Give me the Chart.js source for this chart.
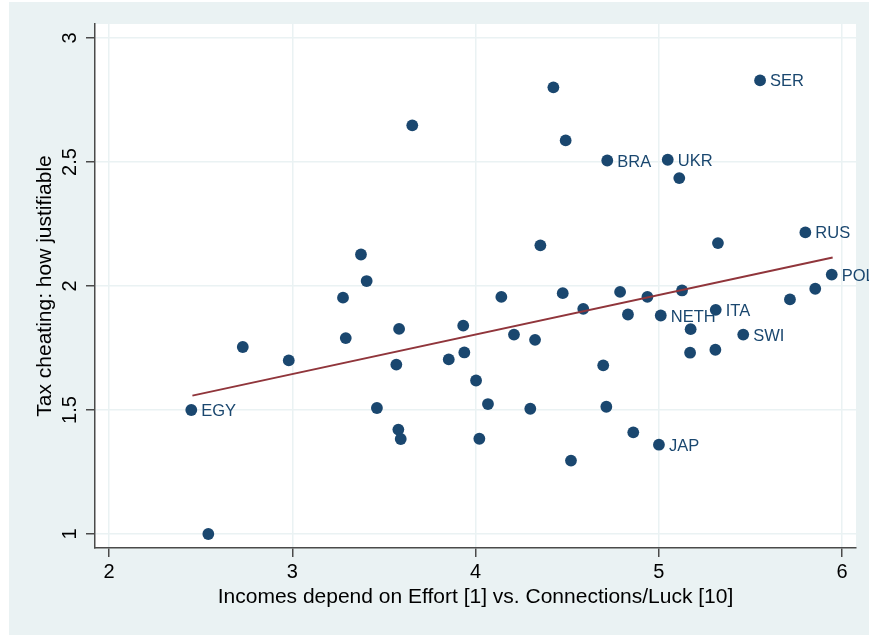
<!DOCTYPE html>
<html>
<head>
<meta charset="utf-8">
<script src="https://cdn.jsdelivr.net/npm/chart.js@4.4.1/dist/chart.umd.min.js"></script>
<style>
  html, body { margin: 0; padding: 0; background: #ffffff; }
  #wrap { width: 869px; height: 635px; }
</style>
</head>
<body>
<div id="wrap"><canvas id="chart" width="869" height="635"></canvas></div>
<script>
// Country averages: perceived role of connections/luck vs. justifiability of tax cheating
const incomeLuck = [
  2.449, 2.542, 2.730, 2.981, 3.277, 3.292, 3.375, 3.406, 3.568, 3.583,
  3.462, 3.579, 3.592, 3.655, 3.854, 3.933, 3.939, 4.003, 4.021, 4.068,
  4.141, 4.210, 4.299, 4.325, 4.354, 4.425, 4.476, 4.492, 4.521, 4.588,
  4.697, 4.719, 4.714, 4.789, 4.832, 4.861, 4.938, 5.001, 5.011, 5.049,
  5.112, 5.127, 5.174, 5.171, 5.311, 5.309, 5.323, 5.461, 5.553, 5.716,
  5.800, 5.854, 5.944
];
const taxCheating = [
  1.500, 1.000, 1.754, 1.700, 1.953, 1.790, 2.127, 2.020, 1.683, 1.827,
  1.508, 1.421, 1.383, 2.648, 1.704, 1.840, 1.732, 1.619, 1.384, 1.524,
  1.956, 1.804, 1.505, 1.783, 2.164, 2.801, 1.971, 2.587, 1.296, 1.908,
  1.680, 2.506, 1.513, 1.976, 1.885, 1.410, 1.956, 1.360, 1.881, 2.509,
  2.435, 1.982, 1.826, 1.731, 1.904, 1.743, 2.173, 1.804, 2.829, 1.946,
  2.216, 1.989, 2.046
];
const countryCodes = [
  'EGY', '', '', '', '', '', '', '', '', '',
  '', '', '', '', '', '', '', '', '', '',
  '', '', '', '', '', '', '', '', '', '',
  '', 'BRA', '', '', '', '', '', 'JAP', 'NETH', 'UKR',
  '', '', '', '', 'ITA', '', '', 'SWI', 'SER', '',
  'RUS', '', 'POL'
];
// Linear fit, endpoints at the data's x range
const fitX = [2.455, 5.949];
const fitY = [1.558, 2.115];

const xTickValues = [2, 3, 4, 5, 6];
const yTickValues = [1, 1.5, 2, 2.5, 3];
const xTitle = 'Incomes depend on Effort [1] vs. Connections/Luck [10]';
const yTitle = 'Tax cheating: how justifiable';

const FONT = '"Liberation Sans", Arial, Helvetica, sans-serif';
const NAVY = '#1a476f';
const MAROON = '#90353b';
const PANEL = '#eaf2f3';
const AXIS = '#4a4a4a';

const scatterPoints = incomeLuck.map((x, i) => ({ x: x, y: taxCheating[i] }));
const fitPoints = fitX.map((x, i) => ({ x: x, y: fitY[i] }));

// Graph region tint with a white plot region
const backgroundPlugin = {
  id: 'stataBackground',
  beforeDraw(chart) {
    const { ctx, chartArea: a, width, height } = chart;
    ctx.save();
    ctx.fillStyle = '#ffffff';
    ctx.fillRect(0, 0, width, height);
    ctx.fillStyle = PANEL;
    ctx.fillRect(9, 2, width - 9, height - 2);
    ctx.fillStyle = '#ffffff';
    ctx.fillRect(a.left, a.top, a.right - a.left, a.bottom - a.top);
    ctx.restore();
  }
};

// Vertical (rotated) y tick labels
const yTickLabelPlugin = {
  id: 'rotatedYTicks',
  afterDraw(chart) {
    const { ctx } = chart;
    const ys = chart.scales.y;
    ctx.save();
    ctx.font = '20px ' + FONT;
    ctx.fillStyle = '#000000';
    ctx.textAlign = 'center';
    ctx.textBaseline = 'middle';
    ys.ticks.forEach(t => {
      const py = ys.getPixelForValue(t.value);
      ctx.save();
      ctx.translate(70, py);
      ctx.rotate(-Math.PI / 2);
      ctx.fillText(String(t.value), 0, 0);
      ctx.restore();
    });
    ctx.restore();
  }
};

// Country code labels to the right of their markers
const markerLabelPlugin = {
  id: 'markerLabels',
  afterDatasetsDraw(chart) {
    const { ctx } = chart;
    const xs = chart.scales.x, ys = chart.scales.y;
    ctx.save();
    ctx.font = '16.5px ' + FONT;
    ctx.fillStyle = NAVY;
    ctx.textAlign = 'left';
    ctx.textBaseline = 'middle';
    countryCodes.forEach((code, i) => {
      if (!code) return;
      const px = xs.getPixelForValue(incomeLuck[i]);
      const py = ys.getPixelForValue(taxCheating[i]);
      ctx.fillText(code, px + 10, py + 1.5);
    });
    ctx.restore();
  }
};

new Chart(document.getElementById('chart'), {
  type: 'scatter',
  data: {
    datasets: [
      {
        type: 'line',
        data: fitPoints,
        borderColor: MAROON,
        borderWidth: 2,
        pointRadius: 0,
        fill: false,
        tension: 0,
        order: 0
      },
      {
        data: scatterPoints,
        backgroundColor: NAVY,
        borderColor: NAVY,
        borderWidth: 0,
        pointRadius: 5.9,
        pointHoverRadius: 5.9,
        order: 1
      }
    ]
  },
  plugins: [backgroundPlugin, yTickLabelPlugin, markerLabelPlugin],
  options: {
    responsive: false,
    devicePixelRatio: 1,
    animation: false,
    events: [],
    layout: { padding: { top: 24, right: 13, left: 0, bottom: 0 } },
    plugins: {
      legend: { display: false },
      tooltip: { enabled: false }
    },
    scales: {
      x: {
        type: 'linear',
        min: 1.9236,
        max: 6.0764,
        afterBuildTicks: s => { s.ticks = xTickValues.map(v => ({ value: v })); },
        afterFit: s => { s.height = 87; },
        ticks: {
          color: '#000000',
          font: { family: FONT, size: 20 },
          padding: 3,
          maxRotation: 0,
          callback: v => String(v)
        },
        grid: {
          color: PANEL,
          lineWidth: 1.5,
          drawTicks: true,
          tickLength: 9,
          tickColor: AXIS,
          tickWidth: 1.5
        },
        border: { display: true, color: AXIS, width: 1.5 },
        title: {
          display: true,
          text: xTitle,
          color: '#000000',
          font: { family: FONT, size: 21 },
          padding: { top: 0, bottom: 25 }
        }
      },
      y: {
        type: 'linear',
        min: 0.9435,
        max: 3.0565,
        afterBuildTicks: s => { s.ticks = yTickValues.map(v => ({ value: v })); },
        afterFit: s => { s.width = 95; },
        ticks: { display: false },
        grid: {
          color: PANEL,
          lineWidth: 1.5,
          drawTicks: true,
          tickLength: 9,
          tickColor: AXIS,
          tickWidth: 1.5
        },
        border: { display: true, color: AXIS, width: 1.5 },
        title: {
          display: true,
          text: yTitle,
          color: '#000000',
          font: { family: FONT, size: 21 },
          padding: { top: 32.9, bottom: 0 }
        }
      }
    }
  }
});
</script>
</body>
</html>
